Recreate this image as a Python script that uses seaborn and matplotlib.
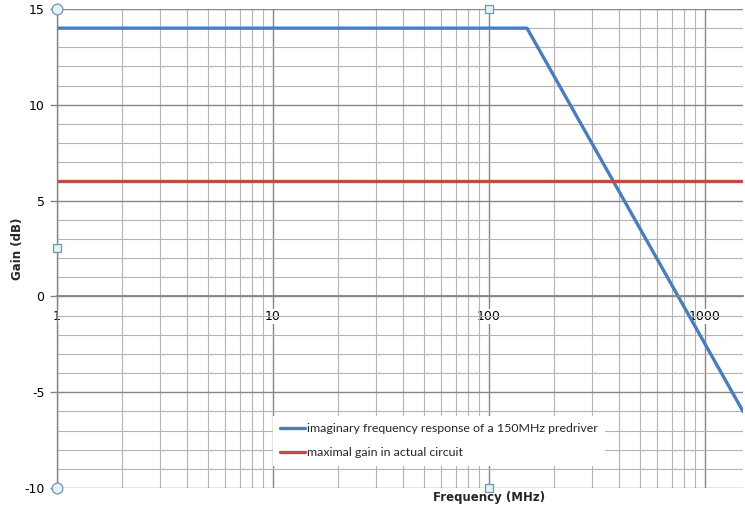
import matplotlib
matplotlib.use("Agg")
import matplotlib.pyplot as plt
import matplotlib.ticker as mticker
import seaborn as sns
import pandas as pd

# ---- data ----
resp_freq = [1, 150, 1500]
resp_gain = [14, 14, -6]
max_freq = [1, 1500]
max_gain = [6, 6]
series_names = ["imaginary frequency response of a 150MHz predriver",
                "maximal gain in actual circuit"]
x_ticks = [1, 10, 100, 1000]
x_tick_labels = ["1", "10", "100", "1000"]
y_ticks = [-10, -5, 0, 5, 10, 15]
y_tick_labels = ["-10", "-5", "0", "5", "10", "15"]
# Excel selection handles visible in the reference
handle_circle_x = [1, 1]
handle_circle_y = [15, -10]
handle_square_x = [100, 1, 100]
handle_square_y = [15, 2.5, -10]

df = pd.DataFrame({
    "freq": resp_freq + max_freq,
    "gain": resp_gain + max_gain,
    "series": [series_names[0]] * len(resp_freq) + [series_names[1]] * len(max_freq),
})

sns.set_theme(style="white")
plt.rcParams["font.family"] = ["DejaVu Sans"]
plt.rcParams["axes.unicode_minus"] = False

fig = plt.figure(figsize=(7.45, 5.18), dpi=100)
ax = fig.add_axes([57 / 745, 1 - 488 / 518, 686 / 745, 479 / 518])

palette = {series_names[0]: "#4A7EBB", series_names[1]: "#BE4B48"}
sns.lineplot(data=df, x="freq", y="gain", hue="series", palette=palette,
             linewidth=2.4, ax=ax, sort=False, estimator=None, legend=True)

ax.set_xscale("log")
ax.set_xlim(1, 1500)
ax.set_ylim(-10, 15)

ax.xaxis.set_major_locator(mticker.FixedLocator(x_ticks))
ax.xaxis.set_major_formatter(mticker.FixedFormatter(x_tick_labels))
ax.xaxis.set_minor_locator(mticker.LogLocator(base=10, subs=[2, 3, 4, 5, 6, 7, 8, 9]))
ax.xaxis.set_minor_formatter(mticker.NullFormatter())
ax.yaxis.set_major_locator(mticker.FixedLocator(y_ticks))
ax.yaxis.set_major_formatter(mticker.FixedFormatter(y_tick_labels))
ax.yaxis.set_minor_locator(mticker.MultipleLocator(1))

ax.grid(which="major", color="#868686", linewidth=1.0)
ax.grid(which="minor", color="#b4b4b4", linewidth=0.8)
ax.set_axisbelow(True)

for s in ["top", "right"]:
    ax.spines[s].set_visible(False)
ax.spines["bottom"].set_position(("data", 0))
ax.spines["bottom"].set_color("#868686")
ax.spines["bottom"].set_linewidth(1.3)
ax.spines["left"].set_color("#868686")
ax.spines["left"].set_linewidth(1.0)

ax.tick_params(axis="x", which="major", direction="out", length=5, width=1,
               color="#868686", labelsize=9, pad=5, labelcolor="black")
ax.tick_params(axis="x", which="minor", length=0)
ax.tick_params(axis="y", which="major", direction="out", length=5, width=1,
               color="#868686", labelsize=9, pad=4, labelcolor="black", left=True)
ax.tick_params(axis="y", which="minor", length=0)

ax.set_xlabel("Frequency (MHz)", fontsize=8.5, fontweight="bold")
ax.set_ylabel("Gain (dB)", fontsize=8.5, fontweight="bold")
ax.xaxis.set_label_coords((489 - 57) / 686, -0.019)
ax.xaxis.label.set_va("center")
ax.yaxis.set_label_coords((17 - 57) / 686, 0.5)
ax.yaxis.label.set_va("center")

# selection handles
ax.scatter(handle_circle_x, handle_circle_y, marker="o", s=60, facecolor="#e4f2f8",
           edgecolor="#6f96ad", linewidth=0.9, zorder=5, clip_on=False)
ax.scatter(handle_square_x, handle_square_y, marker="s", s=40, facecolor="#e4f2f8",
           edgecolor="#6f96ad", linewidth=0.9, zorder=5, clip_on=False)

handles, labels = ax.get_legend_handles_labels()
leg = ax.legend(handles[:2], labels[:2], loc="upper left",
                bbox_to_anchor=((273 - 57) / 686, (488 - 416) / 479),
                frameon=True, fancybox=False, framealpha=1, edgecolor="white",
                facecolor="white", handlelength=2.0, handletextpad=0.15,
                borderpad=0.6, labelspacing=1.05, borderaxespad=0,
                prop={"family": ["Lato", "DejaVu Sans"], "size": 8.9})
leg.get_frame().set_linewidth(0)
for line in leg.get_lines():
    line.set_linewidth(2.4)

fig.canvas.draw()
for tick in ax.xaxis.get_major_ticks():
    tick.label1.set_bbox(dict(facecolor="white", edgecolor="none", pad=0.8))

fig.savefig("out.png", dpi=100)
